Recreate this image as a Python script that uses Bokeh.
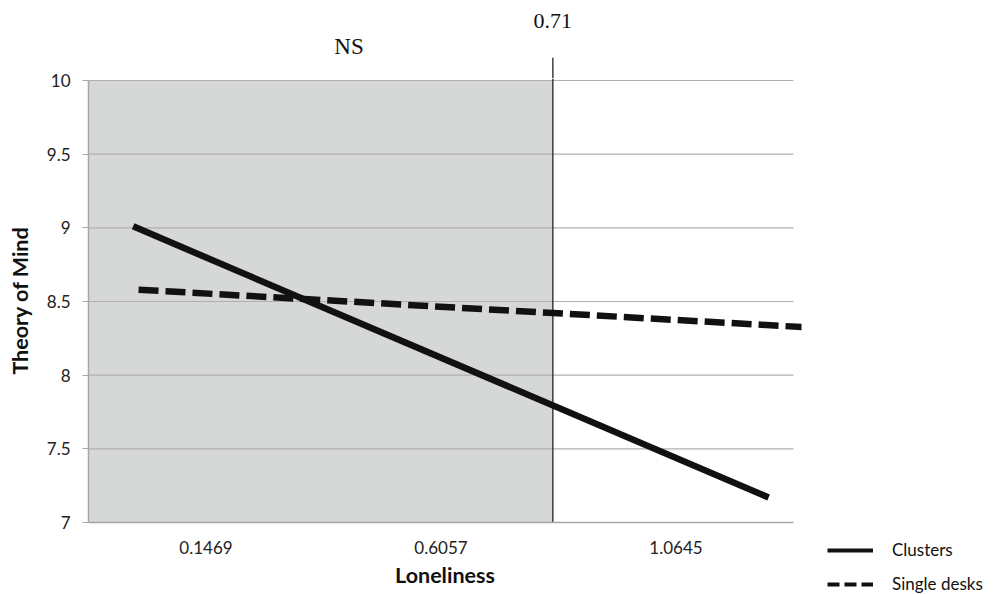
from bokeh.plotting import figure
from bokeh.models import Range1d, FixedTicker, Legend, LegendItem, ColumnDataSource
from bokeh.layouts import row, column, Spacer
from bokeh.core.properties import value
from bokeh.embed import file_html
from bokeh.resources import INLINE

# ---- data ----
categories = ["0.1469", "0.6057", "1.0645"]          # Loneliness tick labels
y_ticks = [7, 7.5, 8, 8.5, 9, 9.5, 10]              # Theory of Mind ticks
series_names = ["Clusters", "Single desks"]
# simple-slope lines; x in category positions (0 = first category)
clusters_x = [-0.31, 2.394]
clusters_y = [9.01, 7.17]
single_x = [-0.287, 2.543]
single_y = [8.58, 8.326]
threshold_text = "0.71"
threshold_pos = 1.476          # where the region of significance starts
ns_text = "NS"

n_cat = len(categories)
x_lo, x_hi = -0.5, n_cat - 0.5
y_lo, y_hi = y_ticks[0], y_ticks[-1]

FONT = "Lato"
AX = "#a6a6a6"
INK = "#111111"
NAN = float("nan")

x_range = Range1d(x_lo, 2.534)
y_top_main = 10.0136
y_top_head = 10.543
OVERLAP = 18

# ---- header strip: threshold label, NS label, top of threshold line ----
head = figure(width=810, height=78, output_backend="svg", toolbar_location=None,
              x_range=x_range, y_range=Range1d(y_top_main, y_top_head),
              x_axis_type=None, y_axis_type=None,
              min_border_left=88, min_border_right=9, min_border_top=0, min_border_bottom=0)
head.outline_line_color = None
head.segment(x0=[threshold_pos], x1=[threshold_pos], y0=[y_top_main], y1=[10.154],
             line_color="#222222", line_width=1.3)
head.text(x=[threshold_pos], y=[10.407], text=[threshold_text], text_font=value("Liberation Serif"),
          text_font_size="22px", text_align="center", text_baseline="middle", text_color=INK)
head.text(x=[0.6085], y=[10.234], text=[ns_text], text_font=value("Liberation Serif"),
          text_font_size="23px", text_align="center", text_baseline="middle", text_color=INK)

# ---- main plot (its transparent top border overlaps the header) ----
p = figure(width=810, height=516 + OVERLAP, output_backend="svg", toolbar_location=None,
           x_range=x_range, y_range=Range1d(y_lo, y_top_main),
           min_border_left=88, min_border_right=9, min_border_top=OVERLAP,
           min_border_bottom=72, margin=(-OVERLAP, 0, 0, 0))
p.outline_line_color = None
p.background_fill_color = "white"
p.border_fill_alpha = 0
p.xgrid.visible = False
p.ygrid.visible = False

# shaded non-significant region
p.quad(left=[x_lo], right=[threshold_pos], bottom=[y_lo], top=[y_hi],
       fill_color="#d6d7d7", line_color=None)

# horizontal gridlines (end at the last category edge)
p.segment(x0=[x_lo] * (len(y_ticks) - 1), x1=[x_hi] * (len(y_ticks) - 1),
          y0=y_ticks[1:], y1=y_ticks[1:], line_color="#b0b0b0", line_width=1.2)

# threshold line
p.segment(x0=[threshold_pos], x1=[threshold_pos], y0=[y_lo], y1=[y_top_main],
          line_color="#222222", line_width=1.3)

# data lines
r1 = p.line(clusters_x, clusters_y, line_color=INK, line_width=6.5, line_cap="butt")
r2 = p.line(single_x, single_y, line_color=INK, line_width=6.5,
            line_dash="20 7", line_cap="butt")

# axes
xa = p.xaxis[0]
xa.ticker = FixedTicker(ticks=list(range(n_cat)))
xa.major_label_overrides = {i: c for i, c in enumerate(categories)}
xa.bounds = (x_lo, x_hi)
xa.axis_line_color = AX
xa.axis_line_width = 1.5
xa.major_tick_line_color = None
xa.minor_tick_line_color = None
xa.major_label_standoff = 12
xa.major_label_text_font = FONT
xa.major_label_text_font_size = "17px"
xa.major_label_text_color = "#222222"
xa.axis_label = "Loneliness"
xa.axis_label_text_font = FONT
xa.axis_label_text_font_style = "bold"
xa.axis_label_text_font_size = "21.5px"
xa.axis_label_text_color = INK
xa.axis_label_standoff = 5

ya = p.yaxis[0]
ya.ticker = FixedTicker(ticks=y_ticks)
ya.bounds = (y_lo, y_hi)
ya.axis_line_color = AX
ya.axis_line_width = 1.5
ya.major_tick_line_color = AX
ya.major_tick_line_width = 1.2
ya.major_tick_out = 6
ya.major_tick_in = 0
ya.minor_tick_line_color = None
ya.major_label_standoff = 12
ya.major_label_text_font = FONT
ya.major_label_text_font_size = "17px"
ya.major_label_text_color = "#222222"
ya.axis_label = "Theory of Mind"
ya.axis_label_text_font = FONT
ya.axis_label_text_font_style = "bold"
ya.axis_label_text_font_size = "21.5px"
ya.axis_label_text_color = INK
ya.axis_label_standoff = 11

# ---- legend in its own small figure at the bottom right ----
lg = figure(width=190, height=64, output_backend="svg", toolbar_location=None,
            x_range=Range1d(0, 1), y_range=Range1d(0, 1),
            x_axis_type=None, y_axis_type=None,
            min_border_left=0, min_border_right=0, min_border_top=0, min_border_bottom=0)
lg.outline_line_color = None
src1 = ColumnDataSource(data=dict(x=[NAN, NAN], y=[NAN, NAN]))
src2 = ColumnDataSource(data=dict(x=[NAN, NAN], y=[NAN, NAN]))
l1 = lg.line("x", "y", source=src1, line_color=INK, line_width=4, line_cap="butt")
l2 = lg.line("x", "y", source=src2, line_color=INK, line_width=4,
             line_dash="12 5", line_cap="butt")
legend = Legend(items=[LegendItem(label=series_names[0], renderers=[l1]),
                       LegendItem(label=series_names[1], renderers=[l2])],
                location=(17, 0), padding=0, margin=0, spacing=13,
                glyph_width=46, glyph_height=20, label_height=20, label_standoff=19,
                border_line_color=None, background_fill_alpha=0,
                label_text_font=FONT, label_text_font_size="17px",
                label_text_color=INK)
lg.add_layout(legend, "center")

layout = row(column(head, p, spacing=0),
             column(Spacer(width=190, height=530), lg, spacing=0), spacing=0)

open("out.html", "w").write(file_html(layout, INLINE))
